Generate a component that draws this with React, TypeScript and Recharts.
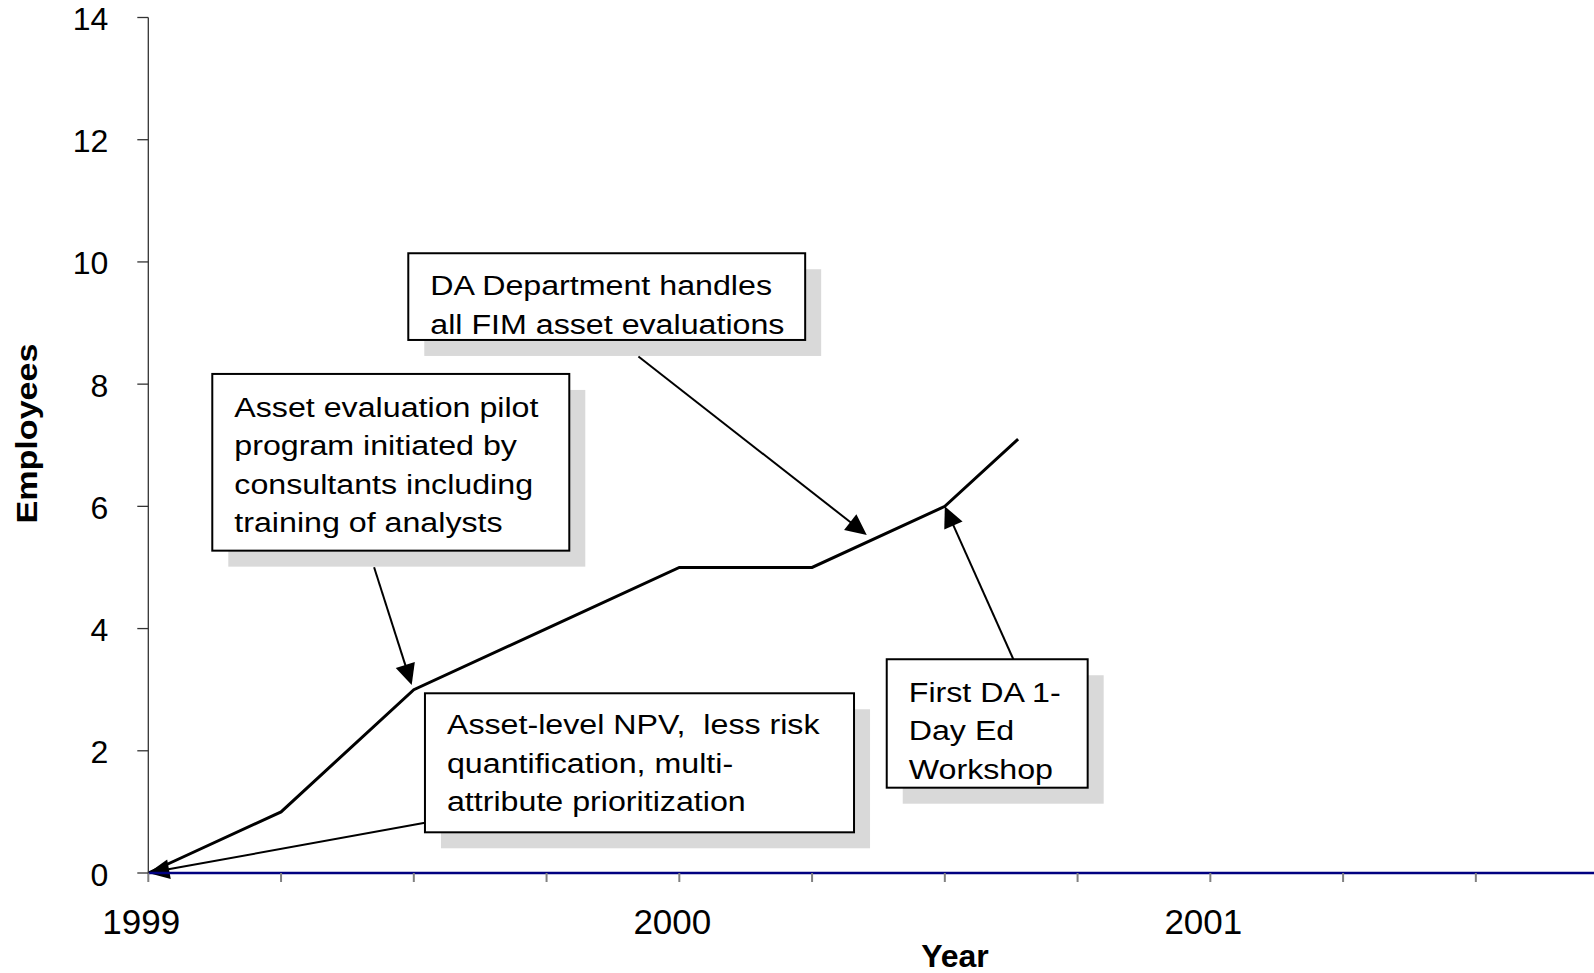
import React from "react";
import { LineChart, Line, XAxis, YAxis, ReferenceArea, ReferenceLine, Label } from "recharts";

// Headcount of the DA department
const years = [1999, 1999.25, 1999.5, 1999.75, 2000, 2000.25, 2000.5, 2000.638];
const employees = [0, 1, 3, 4, 5, 5, 6, 7.1];

const yTicks = [0, 2, 4, 6, 8, 10, 12, 14];
const xTicks = [1999, 1999.25, 1999.5, 1999.75, 2000, 2000.25, 2000.5, 2000.75, 2001, 2001.25, 2001.5, 2001.75];
const xLabelYears = [1999, 2000, 2001];

// callout boxes, in data units (year / employees)
const notes = [
  { x1: 1999.4896, x2: 2000.237, y1: 8.723, y2: 10.142, dy: 42,
    lines: ["DA Department handles", "all FIM asset evaluations"] },
  { x1: 1999.1205, x2: 1999.7928, y1: 5.275, y2: 8.167, dy: 43,
    lines: ["Asset evaluation pilot", "program initiated by", "consultants including", "training of analysts"] },
  { x1: 1999.521, x2: 2000.329, y1: 0.666, y2: 2.941, dy: 41,
    lines: ["Asset-level NPV,  less risk", "quantification, multi-", "attribute prioritization"] },
  { x1: 2000.3906, x2: 2000.769, y1: 1.396, y2: 3.498, dy: 42.5,
    lines: ["First DA 1-", "Day Ed", "Workshop"] },
];

// arrows from callouts to the curve
const arrows = [
  { from: { x: 1999.923, y: 8.452 }, to: { x: 2000.353, y: 5.532 } },
  { from: { x: 1999.4252, y: 5.003 }, to: { x: 1999.496, y: 3.077 } },
  { from: { x: 1999.521, y: 0.823 }, to: { x: 1999, y: 0 } },
  { from: { x: 2000.629, y: 3.498 }, to: { x: 2000.5, y: 6.0 } },
];

const data = years.map((year, i) => ({ year, employees: employees[i] }));

const FONT = "'Liberation Sans', Arial, sans-serif";
const TEXT_SCALE_X = 1.15;
const LINE_HEIGHT = 38.5;
const TEXT_DX = 22;

const Arrow = (props: any) => {
  const { x1, y1, x2, y2 } = props;
  const len = Math.hypot(x2 - x1, y2 - y1) || 1;
  const ux = (x2 - x1) / len;
  const uy = (y2 - y1) / len;
  const headLen = 21;
  const half = 10;
  const bx = x2 - ux * headLen;
  const by = y2 - uy * headLen;
  const pts = `${x2},${y2} ${bx - uy * half},${by + ux * half} ${bx + uy * half},${by - ux * half}`;
  return (
    <g>
      <line x1={x1} y1={y1} x2={bx + ux * 2} y2={by + uy * 2} stroke="#000" strokeWidth={2} />
      <polygon points={pts} fill="#000" />
    </g>
  );
};

const makeBox = (note: (typeof notes)[number]) => (props: any) => {
  const { x, y, width, height } = props;
  return (
    <g>
      <rect x={x + 16} y={y + 16} width={width} height={height} fill="#d9d9d9" />
      <rect x={x} y={y} width={width} height={height} fill="#fff" stroke="#000" strokeWidth={2} />
      <g transform={`translate(${x + TEXT_DX},${y + note.dy}) scale(${TEXT_SCALE_X},1)`}>
        {note.lines.map((line, i) => (
          <text key={i} x={0} y={i * LINE_HEIGHT} fontSize={28} fontFamily={FONT} fill="#000"
            style={{ whiteSpace: "pre" }}>
            {line}
          </text>
        ))}
      </g>
    </g>
  );
};

const XTick = (props: any) => {
  const { x, y, payload } = props;
  if (!xLabelYears.includes(payload.value)) return <g />;
  return (
    <text x={x - 7} y={y + 50} textAnchor="middle" fontSize={35} fontFamily={FONT} fill="#000">
      {payload.value}
    </text>
  );
};

const YTick = (props: any) => {
  const { x, y, payload } = props;
  return (
    <text x={x - 27} y={y + 12.5} textAnchor="end" fontSize={32} fontFamily={FONT} fill="#000">
      {payload.value}
    </text>
  );
};

export default function App() {
  return (
    <div style={{ position: "absolute", left: 0, top: 0, width: 1594, height: 973, overflow: "hidden", background: "#fff" }}>
      <LineChart width={1620} height={973} data={data} margin={{ top: 17.5, right: 11.4, left: 0, bottom: 0 }}>
        <XAxis
          type="number"
          dataKey="year"
          domain={[1999, 2001.75]}
          ticks={xTicks}
          interval={0}
          height={100}
          tickSize={9}
          axisLine={{ stroke: "#000080", strokeWidth: 2.5 }}
          tickLine={{ stroke: "#808080", strokeWidth: 2 }}
          tick={<XTick />}
        >
          <Label
            content={() => (
              <text x={955} y={966.5} textAnchor="middle" fontSize={32} fontWeight="bold" fontFamily={FONT} fill="#000">
                Year
              </text>
            )}
          />
        </XAxis>
        <YAxis
          type="number"
          domain={[0, 14]}
          ticks={yTicks}
          interval={0}
          width={148.3}
          tickSize={11}
          axisLine={{ stroke: "#333", strokeWidth: 1.3 }}
          tickLine={{ stroke: "#333", strokeWidth: 1.3 }}
          tick={<YTick />}
        >
          <Label
            content={() => (
              <text transform="translate(36.5,433.5) rotate(-90)" textAnchor="middle" fontSize={29}
                fontWeight="bold" fontFamily={FONT} fill="#000" textLength={180} lengthAdjust="spacingAndGlyphs">
                Employees
              </text>
            )}
          />
        </YAxis>
        <Line
          type="linear"
          dataKey="employees"
          stroke="#000"
          strokeWidth={3}
          dot={false}
          activeDot={false}
          isAnimationActive={false}
        />
        {arrows.map((a, i) => (
          <ReferenceLine key={`a${i}`} segment={[a.from, a.to]} shape={Arrow} />
        ))}
        {notes.map((n, i) => (
          <ReferenceArea key={`n${i}`} x1={n.x1} x2={n.x2} y1={n.y1} y2={n.y2} shape={makeBox(n)} />
        ))}
      </LineChart>
    </div>
  );
}
